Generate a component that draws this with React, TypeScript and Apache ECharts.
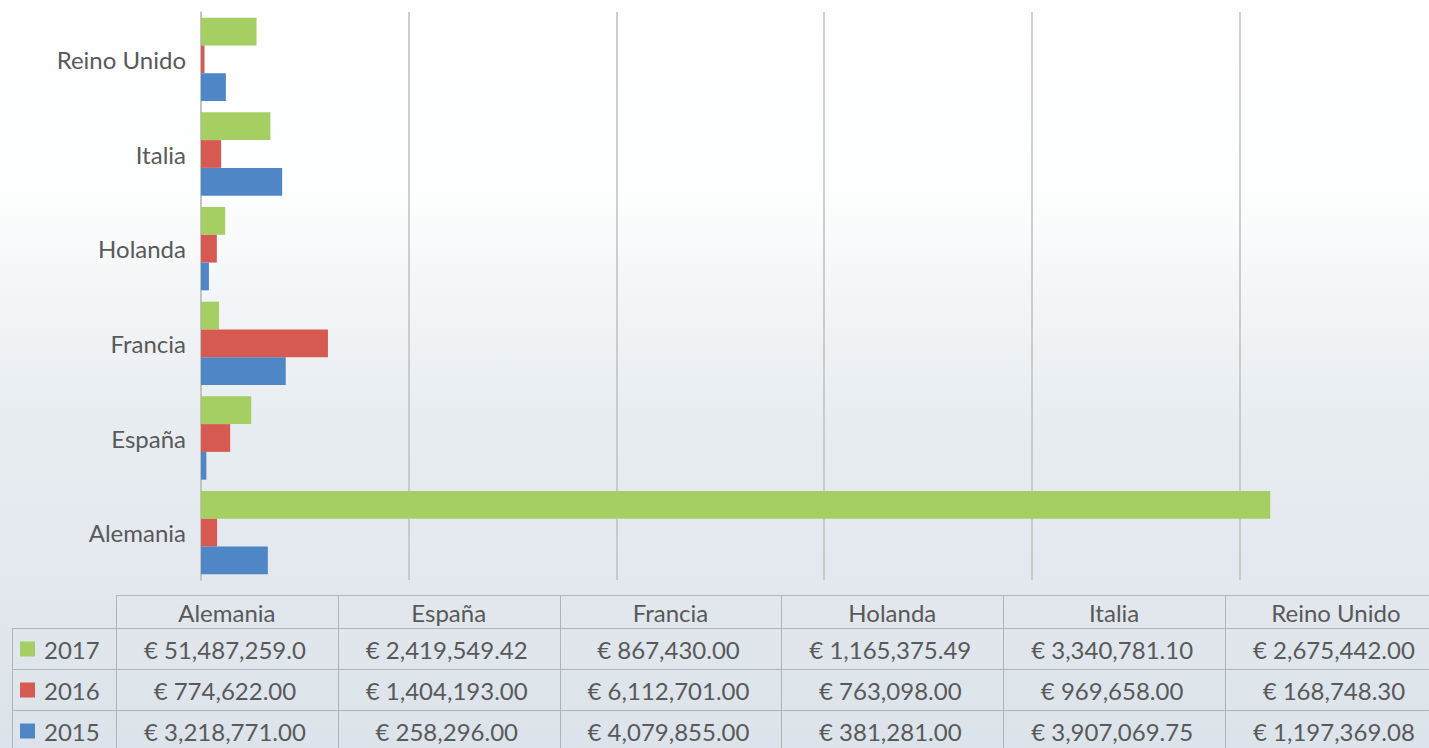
import React, { useEffect, useRef } from "react";
import * as echarts from "echarts";

const categories = ["Alemania", "España", "Francia", "Holanda", "Italia", "Reino Unido"];
const seriesNames = ["2017", "2016", "2015"];
const values2017 = [51487259.0, 2419549.42, 867430.0, 1165375.49, 3340781.1, 2675442.0];
const values2016 = [774622.0, 1404193.0, 6112701.0, 763098.0, 969658.0, 168748.3];
const values2015 = [3218771.0, 258296.0, 4079855.0, 381281.0, 3907069.75, 1197369.08];
const seriesColors = ["#A5CF63", "#D65A52", "#4E86C6"];

const FONT = "Lato";
const TEXT = "#595959";
const BORDER = "#B3B3B3";

function fmt(v: number): string {
  const s = "€ " + v.toLocaleString("en-US", { minimumFractionDigits: 2, maximumFractionDigits: 2 });
  return s.length > 14 ? s.slice(0, 14) : s;
}

export default function App() {
  const ref = useRef<HTMLDivElement>(null);
  useEffect(() => {
    if (!ref.current) return;
    const chart = echarts.init(ref.current, null, { renderer: "svg" });
    const gridLeft = 201;
    const gridTop = 12;
    const gridHeight = 568;
    const gridWidth = 1246;

    const colX0 = 116;
    const colW = 221.8;
    const tableTop = 595;
    const headerBottom = 628;
    const rowH = 41;
    const legendLeft = 12;
    const rightEdge = 1480;
    const bottomEdge = 760;
    const rowsVals = [values2017, values2016, values2015];

    const g: any[] = [];
    g.push({ type: "line", shape: { x1: colX0, y1: tableTop + 0.5, x2: rightEdge, y2: tableTop + 0.5 }, style: { stroke: BORDER, lineWidth: 1 } });
    for (let r = 0; r < 3; r++) {
      const y = headerBottom + r * rowH + 0.5;
      g.push({ type: "line", shape: { x1: legendLeft, y1: y, x2: rightEdge, y2: y }, style: { stroke: BORDER, lineWidth: 1 } });
    }
    g.push({ type: "line", shape: { x1: legendLeft + 0.5, y1: headerBottom, x2: legendLeft + 0.5, y2: bottomEdge }, style: { stroke: BORDER, lineWidth: 1 } });
    for (let c = 0; c < categories.length; c++) {
      const x = Math.round(colX0 + c * colW) + 0.5;
      g.push({ type: "line", shape: { x1: x, y1: tableTop, x2: x, y2: bottomEdge }, style: { stroke: BORDER, lineWidth: 1 } });
    }
    categories.forEach((cat, c) => {
      g.push({
        type: "text",
        x: colX0 + (c + 0.5) * colW,
        y: (tableTop + headerBottom) / 2 + 1,
        style: { text: cat, fill: TEXT, font: `24px ${FONT}`, align: "center", verticalAlign: "middle" },
      });
    });
    seriesNames.forEach((name, r) => {
      const cy = headerBottom + r * rowH + rowH / 2 + 1;
      g.push({ type: "rect", shape: { x: 20, y: cy - 8, width: 15, height: 15 }, style: { fill: seriesColors[r] } });
      g.push({ type: "text", x: 44, y: cy, style: { text: name, fill: TEXT, font: `24px ${FONT}`, align: "left", verticalAlign: "middle" } });
      rowsVals[r].forEach((v, c) => {
        g.push({
          type: "text",
          x: colX0 + (c + 0.5) * colW - 2,
          y: cy,
          style: { text: fmt(v), fill: TEXT, font: `24px ${FONT}`, align: "center", verticalAlign: "middle" },
        });
      });
    });

    chart.setOption({
      animation: false,
      backgroundColor: {
        type: "linear",
        x: 0, y: 0, x2: 0, y2: 1,
        colorStops: [
          { offset: 0, color: "#FFFFFF" },
          { offset: 0.25, color: "#FDFEFE" },
          { offset: 0.55, color: "#E8EDF1" },
          { offset: 1, color: "#DCE3EA" },
        ],
      },
      textStyle: { fontFamily: FONT },
      grid: { left: gridLeft, top: gridTop, width: gridWidth, height: gridHeight, containLabel: false },
      xAxis: {
        type: "value",
        min: 0,
        max: 60000000,
        interval: 10000000,
        axisLabel: { show: false },
        axisTick: { show: false },
        axisLine: { show: false },
        splitLine: { show: true, lineStyle: { color: "#BFBFBF", width: 1.5 } },
      },
      yAxis: {
        type: "category",
        data: categories,
        axisTick: { show: false },
        axisLine: { show: true, lineStyle: { color: "#BFBFBF", width: 1.5 } },
        axisLabel: { color: TEXT, fontSize: 24, fontFamily: FONT, margin: 15 },
      },
      series: [
        { name: "2017", type: "bar", data: values2017, itemStyle: { color: seriesColors[0] }, barGap: "0%", barCategoryGap: "12%" },
        { name: "2016", type: "bar", data: values2016, itemStyle: { color: seriesColors[1] }, barGap: "0%", barCategoryGap: "12%" },
        { name: "2015", type: "bar", data: values2015, itemStyle: { color: seriesColors[2] }, barGap: "0%", barCategoryGap: "12%" },
      ],
      graphic: g,
    });
    return () => chart.dispose();
  }, []);
  return (
    <div style={{ position: "fixed", left: 0, top: 0, width: 1429, height: 748, overflow: "hidden" }}>
      <div ref={ref} style={{ width: 1480, height: 748 }} />
    </div>
  );
}
